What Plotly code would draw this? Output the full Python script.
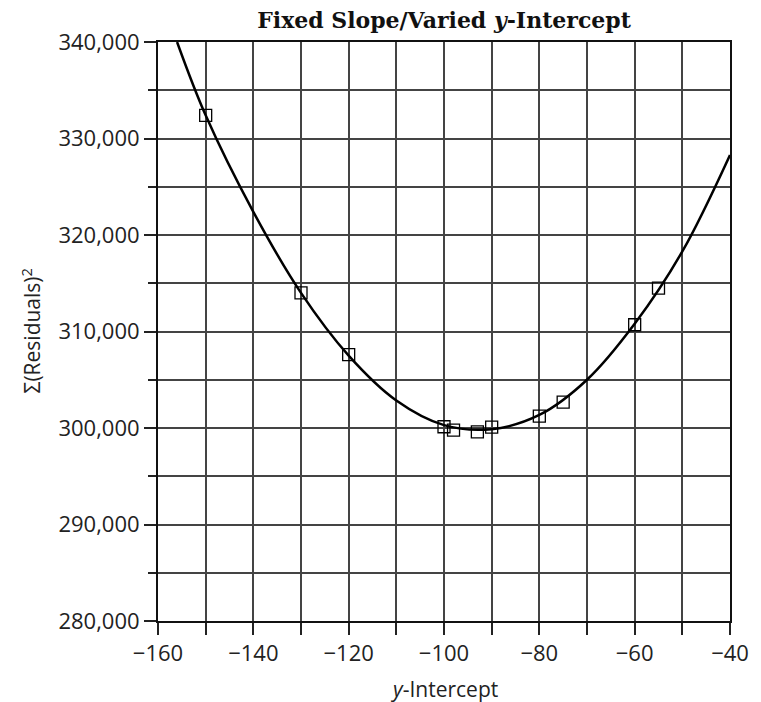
import plotly.graph_objects as go

# Data
marker_x = [-150, -130, -120, -100, -98, -93, -90, -80, -75, -60, -55]
marker_y = [332400, 314000, 307600, 300130, 299790, 299590, 300100, 301240, 302690, 310700, 314500]

curve_x = [-156, -150, -140, -130, -120, -110, -100, -90, -80, -70, -60, -50, -40]
curve_y = [340000, 332400, 322400, 314000, 307500, 302850, 300300, 299880, 301350, 305000, 310800, 318300, 328300]

x_ticks = [-160, -140, -120, -100, -80, -60, -40]
y_ticks = [280000, 290000, 300000, 310000, 320000, 330000, 340000]

fig = go.Figure()
fig.add_trace(go.Scatter(x=curve_x, y=curve_y, mode="lines",
                         line=dict(color="black", width=2.5, shape="spline", smoothing=1.0),
                         hoverinfo="skip", showlegend=False))
fig.add_trace(go.Scatter(x=marker_x, y=marker_y, mode="markers",
                         marker=dict(symbol="square-open", size=12, color="black",
                                     line=dict(width=1.3, color="black")),
                         showlegend=False))

tickfont = dict(family="Open Sans", size=22, color="#222")
grid_color = "#444"

fig.update_xaxes(range=[-160, -40], tickvals=x_ticks, ticktext=[f"\u2212{abs(v)}" for v in x_ticks],
                 showgrid=True, gridcolor=grid_color, gridwidth=1.5,
                 ticks="outside", ticklen=12, tickwidth=1.5, tickcolor="#222",
                 showline=True, linecolor="#111", linewidth=2, mirror=True,
                 zeroline=False, tickfont=tickfont,
                 minor=dict(dtick=10, tick0=-160, showgrid=True, gridcolor=grid_color, gridwidth=1.5,
                            ticks="outside", ticklen=12, tickwidth=1.5, tickcolor="#222"))
fig.update_yaxes(range=[280000, 340000], tickvals=y_ticks, ticktext=[f"{v:,}" for v in y_ticks],
                 showgrid=True, gridcolor=grid_color, gridwidth=1.5,
                 ticks="outside", ticklen=12, tickwidth=1.5, tickcolor="#222",
                 showline=True, linecolor="#111", linewidth=2, mirror=True,
                 zeroline=False, tickfont=tickfont,
                 minor=dict(dtick=5000, tick0=280000, showgrid=True, gridcolor=grid_color, gridwidth=1.5,
                            ticks="outside", ticklen=8, tickwidth=1.5, tickcolor="#222"))

fig.update_layout(
    width=761, height=702,
    margin=dict(l=158, r=25, t=42, b=81),
    paper_bgcolor="white", plot_bgcolor="white",
    title=dict(text="<b>Fixed Slope/Varied <i>y</i>-Intercept</b>",
               font=dict(family="DejaVu Serif", size=22, color="#111"),
               x=0.5, xref="paper", xanchor="center",
               y=1 - 20 / 702, yref="container", yanchor="middle"),
    annotations=[
        dict(text="<i>y</i>-Intercept", xref="paper", yref="paper", x=0.5, y=-0.118,
             xanchor="center", yanchor="middle", showarrow=False,
             font=dict(family="Open Sans", size=21, color="#222")),
        dict(text="\u03a3(Residuals)<sup>2</sup>", xref="paper", yref="paper", x=-0.222, y=0.5,
             xanchor="center", yanchor="middle", showarrow=False, textangle=-90,
             font=dict(family="Open Sans", size=21, color="#222")),
    ],
)

fig.write_html("out.html", config={"displayModeBar": False},
               post_script="document.body.style.margin='0';document.body.style.padding='0';")
